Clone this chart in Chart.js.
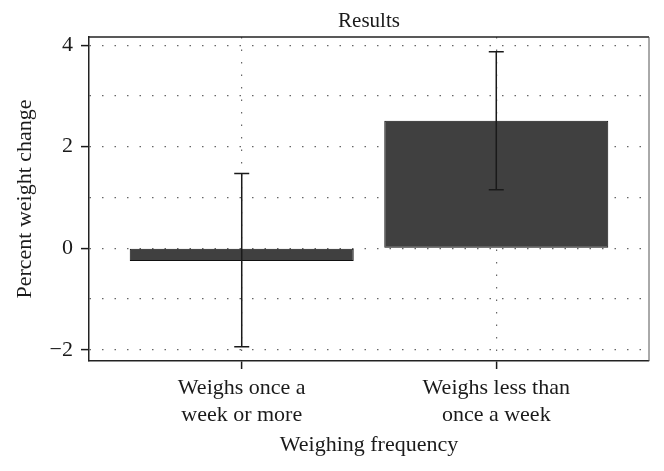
<!DOCTYPE html>
<html>
<head>
<meta charset="utf-8">
<script src="https://cdn.jsdelivr.net/npm/chart.js@4"></script>
<style>
    html, body { margin: 0; padding: 0; background: #fff; }
    #wrap { width: 664px; height: 471px; }
</style>
</head>
<body>
<div id="wrap"><canvas id="resultsChart"></canvas></div>
<script>
// Chart values
const categories = [['Weighs once a', 'week or more'], ['Weighs less than', 'once a week']];
const meanChange = [-0.25, 2.51];
const errLow = [-1.94, 1.15];
const errHigh = [1.47, 3.87];
const yTicks = [-2, -1, 0, 1, 2, 3, 4];

const serif = "'Liberation Serif', 'DejaVu Serif', serif";
const ink = '#1a1a1a';

// Error bars drawn through the scales
const errorBarPlugin = {
    id: 'errorBars',
    afterDatasetsDraw(chart) {
        const meta = chart.getDatasetMeta(0);
        const yScale = chart.scales.y;
        const ctx = chart.ctx;
        ctx.save();
        ctx.strokeStyle = ink;
        ctx.lineWidth = 1.5;
        meta.data.forEach((bar, i) => {
            const x = bar.x;
            const yLo = yScale.getPixelForValue(errLow[i]);
            const yHi = yScale.getPixelForValue(errHigh[i]);
            ctx.beginPath();
            ctx.moveTo(x, yLo);
            ctx.lineTo(x, yHi);
            ctx.moveTo(x - 7.5, yLo);
            ctx.lineTo(x + 7.5, yLo);
            ctx.moveTo(x - 7.5, yHi);
            ctx.lineTo(x + 7.5, yHi);
            ctx.stroke();
        });
        ctx.restore();
    }
};

// Top and right edges of the plot box
const framePlugin = {
    id: 'frame',
    afterDraw(chart) {
        const { ctx, chartArea: a } = chart;
        ctx.save();
        ctx.strokeStyle = '#222';
        ctx.lineWidth = 1.5;
        ctx.beginPath();
        ctx.moveTo(a.left, a.top);
        ctx.lineTo(a.right, a.top);
        ctx.stroke();
        ctx.strokeStyle = '#555';
        ctx.lineWidth = 1;
        ctx.beginPath();
        ctx.moveTo(a.right, a.top);
        ctx.lineTo(a.right, a.bottom);
        ctx.stroke();
        ctx.restore();
    }
};

new Chart(document.getElementById('resultsChart'), {
    type: 'bar',
    data: {
        datasets: [{
            data: meanChange.map((v, i) => ({ x: i, y: v })),
            backgroundColor: '#404040',
            borderColor: '#111',
            borderWidth: 1,
            borderSkipped: false,
            categoryPercentage: 0.88,
            barPercentage: 1
        }]
    },
    options: {
        responsive: true,
        maintainAspectRatio: false,
        animation: false,
        layout: { padding: { left: 0, right: 15, top: 0, bottom: 0 } },
        plugins: {
            legend: { display: false },
            tooltip: { enabled: false }
        },
        scales: {
            x: {
                type: 'linear',
                min: -0.6,
                max: 1.6,
                offset: false,
                afterBuildTicks: scale => {
                    scale.ticks = categories.map((_, i) => ({ value: i }));
                },
                afterFit: scale => { scale.height = 110; },
                ticks: {
                    callback: value => categories[value],
                    color: ink,
                    padding: 6,
                    maxRotation: 0,
                    autoSkip: false,
                    font: { family: serif, size: 22, lineHeight: 1.23 }
                },
                grid: {
                    offset: false,
                    color: '#666',
                    lineWidth: 1.2,
                    tickColor: ink,
                    tickLength: 8,
                    tickWidth: 1.5
                },
                border: { display: true, color: '#222', width: 1.5, dash: [1.5, 11] },
                title: {
                    display: true,
                    text: 'Weighing frequency',
                    color: ink,
                    font: { family: serif, size: 22, lineHeight: 1.2 },
                    padding: { top: 0, bottom: 13 }
                }
            },
            // top axis only carries the chart title, centred over the plot
            top: {
                type: 'linear',
                position: 'top',
                afterFit: scale => { scale.height = 37; },
                ticks: { display: false },
                grid: { display: false, drawTicks: false },
                border: { display: false },
                title: {
                    display: true,
                    text: 'Results',
                    color: ink,
                    font: { family: serif, size: 21, lineHeight: 1.2 },
                    padding: { top: 9, bottom: 0 }
                }
            },
            y: {
                min: -2.22,
                max: 4.16,
                afterBuildTicks: scale => {
                    scale.ticks = yTicks.map(v => ({ value: v }));
                },
                afterFit: scale => { scale.width = 89; },
                ticks: {
                    callback: value => (value % 2 === 0 ? String(value).replace('-', '\u2212') : ''),
                    color: ink,
                    padding: 8,
                    font: { family: serif, size: 22 }
                },
                grid: {
                    color: '#666',
                    lineWidth: 1.2,
                    tickColor: c => (c.tick && c.tick.value % 2 === 0 ? ink : 'rgba(0,0,0,0)'),
                    tickLength: 8,
                    tickWidth: 1.5
                },
                border: { display: true, color: '#222', width: 1.5, dash: [1.5, 11] },
                title: {
                    display: true,
                    text: 'Percent weight change',
                    color: ink,
                    font: { family: serif, size: 22, lineHeight: 1.2 },
                    padding: { top: 12, bottom: 0 }
                }
            }
        }
    },
    plugins: [errorBarPlugin, framePlugin]
});
</script>
</body>
</html>
